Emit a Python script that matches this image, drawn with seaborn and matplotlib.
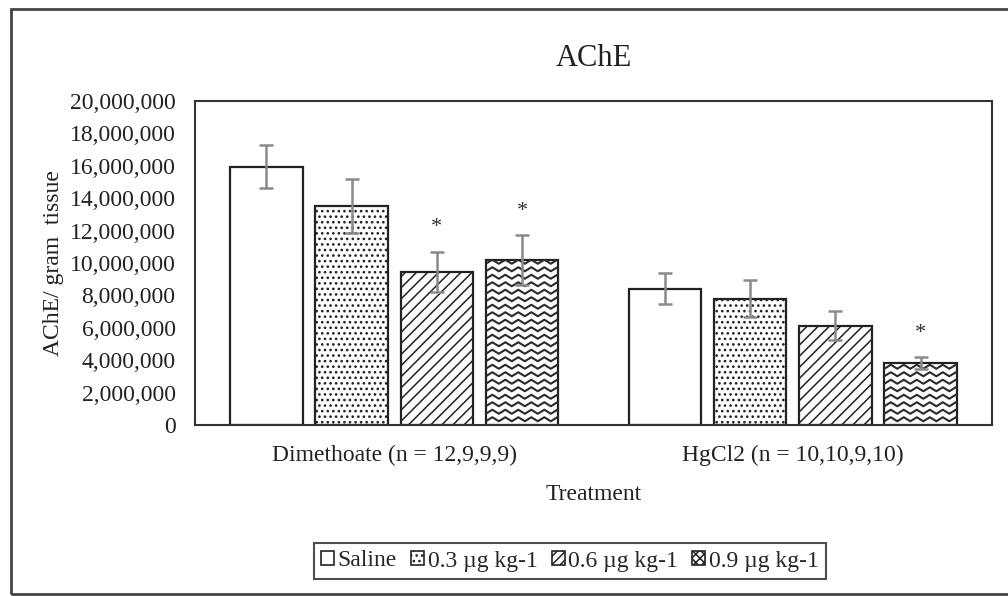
import numpy as np
import pandas as pd
import matplotlib
matplotlib.use("Agg")
import matplotlib.pyplot as plt
from matplotlib.patches import Rectangle, Patch
import seaborn as sns

# 数据
groups = ["Dimethoate (n = 12,9,9,9)", "HgCl2 (n = 10,10,9,10)"]
doses = ["Saline", "0.3 µg kg-1", "0.6 µg kg-1", "0.9 µg kg-1"]
dimethoate_mean = [15.95e6, 13.52e6, 9.43e6, 10.17e6]
dimethoate_err = [1.35e6, 1.65e6, 1.25e6, 1.55e6]
hgcl2_mean = [8.42e6, 7.80e6, 6.13e6, 3.81e6]
hgcl2_err = [0.95e6, 1.15e6, 0.90e6, 0.38e6]
dimethoate_sig = [False, False, True, True]
hgcl2_sig = [False, False, False, True]
y_ticks = np.arange(0, 20000001, 2000000)

df = pd.DataFrame({
    "Treatment": [groups[0]] * 4 + [groups[1]] * 4,
    "Dose": doses * 2,
    "Mean": dimethoate_mean + hgcl2_mean,
    "Err": dimethoate_err + hgcl2_err,
    "Sig": dimethoate_sig + hgcl2_sig,
})

sns.set_style("white")
plt.rcParams['font.family'] = ['Liberation Serif', 'DejaVu Serif']
plt.rcParams['hatch.linewidth'] = 1.1
plt.rcParams['hatch.color'] = '#222222'

fig = plt.figure(figsize=(10.08, 5.96), dpi=100)
ax = fig.add_axes([195 / 1008, 1 - 425 / 596, (992 - 195) / 1008, (425 - 101) / 596])

sns.barplot(data=df, x="Treatment", y="Mean", hue="Dose", order=groups, hue_order=doses,
            palette=["white"] * 4, edgecolor="#222222", linewidth=1.6, errorbar=None,
            width=0.855, gap=0.15, legend=False, ax=ax)

ax.set_xlim(-0.5, 1.5)
ax.set_ylim(0, 20000000)
ax.set_yticks(y_ticks)
ax.set_yticklabels([f"{v:,.0f}" for v in y_ticks])
ax.tick_params(axis="both", length=0, labelsize=17, colors="#222222")
ax.tick_params(axis="y", pad=14)
ax.tick_params(axis="x", pad=14)
for s in ax.spines.values():
    s.set_visible(True)
    s.set_color("#333333")
    s.set_linewidth(1.5)

ax.set_title("AChE", fontsize=22, pad=25, color="#222222")
ax.set_ylabel("AChE/ gram  tissue", fontsize=17, labelpad=4, color="#222222")
ax.set_xlabel("Treatment", fontsize=17, labelpad=13, color="#222222")

hatches = ["", "...", "///", None]
px_x = ax.transData.transform((1, 0))[0] - ax.transData.transform((0, 0))[0]
px_y = ax.transData.transform((0, 1e6))[1] - ax.transData.transform((0, 0))[1]

bar_sets = list(ax.containers)
for k, cont in enumerate(bar_sets):
    dose = doses[k]
    sub = df[df["Dose"] == dose].set_index("Treatment").loc[groups]
    for bar, (_, row) in zip(cont.patches, sub.iterrows()):
        if hatches[k]:
            bar.set_hatch(hatches[k])
        if hatches[k] is None:
            # 锯齿纹（matplotlib 没有这种填充）
            x0 = bar.get_x()
            x1 = x0 + bar.get_width()
            h = bar.get_height()
            period = 13 / px_x
            amp = 4.0 / px_y * 1e6
            step = 7.5 / px_y * 1e6
            xs = np.arange(x0 - period, x1 + period, period / 2)
            for yb in np.arange(step / 2, h + step, step):
                ys = yb + amp * (np.arange(len(xs)) % 2)
                ln, = ax.plot(xs, ys, color="#2a2a2a", lw=1.5)
                ln.set_clip_path(bar)
        xc = bar.get_x() + bar.get_width() / 2
        ax.errorbar(xc, row["Mean"], yerr=row["Err"], color="#8a8a8a", lw=1.8,
                    capsize=4.8, capthick=1.8, zorder=5)
        if row["Sig"]:
            ax.text(xc, row["Mean"] + row["Err"] + 0.9e6, "*", ha="center", va="bottom",
                    fontsize=16, color="#333333")

# 图例
handles = [Patch(facecolor="white", edgecolor="#222222", hatch=h, lw=1.2)
           for h in ["", "...", "////", "xxxx"]]
leg = fig.legend(handles, doses, loc="center", bbox_to_anchor=(570 / 1008, 1 - 561 / 596),
                 ncol=4, fontsize=17, handlelength=0.55, handleheight=0.55, handletextpad=0.15,
                 columnspacing=0.6, frameon=True, fancybox=False, borderpad=0.3)
leg.get_frame().set_edgecolor("#222222")
leg.get_frame().set_linewidth(1.5)

# 外框
fig.add_artist(Rectangle((11 / 1008, 1 - 594 / 596), 1.0, (594 - 9) / 596,
                         transform=fig.transFigure, fill=False, edgecolor="#444444",
                         lw=2, clip_on=False))

plt.savefig("out.png", dpi=100)
plt.close()
